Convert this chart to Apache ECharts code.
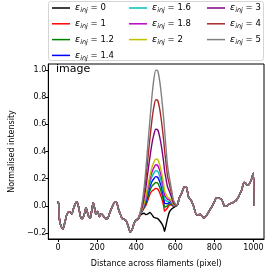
<!DOCTYPE html>
<html><head><meta charset="utf-8">
<script src="https://cdn.jsdelivr.net/npm/echarts@6/dist/echarts.min.js"></script>
<style>html,body{margin:0;padding:0;background:#fff}#c{width:274px;height:274px}</style>
</head><body><div id="c"></div>
<script>
// ---- data ----
const epsLabels = ['0','1','1.2','1.4','1.6','1.8','2','3','4','5'];
const colors = ['#000000','#ff0000','#008000','#0000ff','#00bfbf','#bf00bf','#bfbf00','#800080','#a52a2a','#808080'];

// common profile left of the filament (identical for all curves)
const leftX = [0,4,7,15,25,35,45,55,62,70,80,90,97,105,115,122,132,143,150,157,165,172,180,187,193,203,211,220,230,243,255,265,278,290,299,308,318,330,340,350,360,370,380,390,400];
const leftY = [0.035,0.0,-0.10,-0.15,-0.17,-0.12,-0.065,-0.045,-0.045,-0.06,-0.015,0.02,0.028,-0.01,-0.08,-0.095,-0.075,-0.015,-0.05,-0.08,-0.09,-0.035,0.022,-0.02,-0.06,-0.042,-0.08,-0.058,-0.072,-0.095,-0.09,-0.05,-0.005,0.025,0.025,-0.02,-0.06,-0.098,-0.10,-0.115,-0.155,-0.195,-0.17,-0.125,-0.105];

// filament region, one array per injected epsilon
const peakX = [410,420,430,440,450,460,470,480,490,500,510,520,530,540,545,550,560,570,580,590,600,610];
const eps0  = [-0.100,-0.070,-0.060,-0.055,-0.065,-0.060,-0.050,-0.065,-0.085,-0.090,-0.095,-0.110,-0.130,-0.160,-0.190,-0.160,-0.095,-0.045,-0.025,-0.015,-0.005,0.005];
const eps1  = [-0.098,-0.066,-0.044,-0.018,0.004,0.044,0.086,0.108,0.118,0.128,0.123,0.096,0.056,0.002,-0.040,-0.034,-0.016,0.005,0.005,-0.003,-0.001,0.005];
const eps12 = [-0.098,-0.065,-0.041,-0.011,0.018,0.065,0.113,0.143,0.159,0.172,0.167,0.137,0.093,0.034,-0.010,-0.009,0.000,0.015,0.011,-0.001,0.000,0.005];
const eps14 = [-0.097,-0.064,-0.038,-0.003,0.032,0.086,0.140,0.177,0.199,0.215,0.210,0.178,0.130,0.067,0.020,0.016,0.016,0.025,0.017,0.002,0.001,0.005];
const eps16 = [-0.097,-0.064,-0.034,0.004,0.045,0.106,0.168,0.212,0.240,0.259,0.254,0.220,0.168,0.099,0.050,0.042,0.031,0.035,0.023,0.004,0.001,0.005];
const eps18 = [-0.096,-0.063,-0.031,0.012,0.059,0.127,0.195,0.246,0.280,0.302,0.297,0.261,0.205,0.132,0.080,0.067,0.047,0.045,0.029,0.007,0.002,0.005];
const eps2  = [-0.096,-0.062,-0.028,0.019,0.073,0.148,0.222,0.281,0.321,0.346,0.341,0.302,0.242,0.164,0.110,0.092,0.063,0.055,0.035,0.009,0.003,0.005];
const eps3  = [-0.094,-0.058,-0.012,0.056,0.142,0.252,0.358,0.454,0.524,0.564,0.559,0.508,0.428,0.326,0.260,0.218,0.142,0.105,0.065,0.021,0.007,0.005];
const eps4  = [-0.092,-0.054,0.004,0.093,0.211,0.356,0.494,0.627,0.727,0.782,0.777,0.714,0.614,0.488,0.410,0.344,0.221,0.155,0.095,0.033,0.011,0.005];
const eps5  = [-0.090,-0.050,0.020,0.130,0.280,0.460,0.630,0.800,0.930,1.000,0.995,0.920,0.800,0.650,0.560,0.470,0.300,0.205,0.125,0.045,0.015,0.005];

// common profile right of the filament
const rightX = [620,628,637,645,655,662,670,680,694,709,729,746,760,772,788,800,810,822,834,843,851,861,872,885,897,910,918,930,940,952,960,968,979,991,999,1004];
const rightY = [0.055,0.08,0.11,0.138,0.14,0.105,0.055,0.044,-0.005,-0.066,-0.064,-0.09,-0.07,-0.042,-0.005,0.03,0.057,0.055,0.052,0.03,-0.003,-0.004,0.008,0.018,0.025,0.038,0.05,0.085,0.118,0.172,0.165,0.152,0.16,0.2,0.24,0.0];

const xTicks = [0,200,400,600,800,1000];
const yTicks = [-0.2,0.0,0.2,0.4,0.6,0.8,1.0];

// ---- chart ----
const peakSets = [eps0,eps1,eps12,eps14,eps16,eps18,eps2,eps3,eps4,eps5];
const names = epsLabels.map(v => 'ε_inj = ' + v);
function pairs(xs, ys){ return xs.map((x,i)=>[x,ys[i]]); }
const series = peakSets.map((p,k)=>({
  type:'line', name:names[k], color:colors[k], symbol:'none', smooth:0.25,
  lineStyle:{width:1.4, color:colors[k]}, animation:false,
  data: pairs(leftX,leftY).concat(pairs(peakX,p)).concat(pairs(rightX,rightY))
}));

const font = 'DejaVu Sans';
const richText = {
  e:{fontFamily:font,fontSize:9.5,fontStyle:'italic',lineHeight:12,color:'#000'},
  s:{fontFamily:font,fontSize:6.5,fontStyle:'italic',lineHeight:7,verticalAlign:'bottom',color:'#000'},
  t:{fontFamily:font,fontSize:8.5,lineHeight:12,color:'#000'}
};
function fmt(name){ return '{e|ε}{s|inj}{t| = ' + name.split('= ')[1] + '}'; }
function legendCol(left, idx){
  return {orient:'vertical', left:left, top:3, itemWidth:18, itemHeight:1.5, itemGap:4.8,
    icon:'rect', selectedMode:false, padding:0, data: idx.map(i=>names[i]), formatter:fmt,
    textStyle:{fontFamily:font,fontSize:8.5,rich:richText}};
}

const chart = echarts.init(document.getElementById('c'), null, {renderer:'canvas'});
chart.setOption({
  animation:false,
  backgroundColor:'#fff',
  title:{text:'image', left:56, top:64, padding:0, textStyle:{fontFamily:font,fontSize:11,fontWeight:'normal',color:'#000'}},
  graphic:[{type:'rect', left:48, top:1, z:-1, shape:{width:215, height:59, r:2}, style:{fill:'#fff', stroke:'#d5d5d5', lineWidth:1}}],
  legend:[legendCol(52,[0,1,2,3]), legendCol(129,[4,5,6]), legendCol(207,[7,8,9])],
  grid:{left:46, right:10, top:64, bottom:35, show:true, borderColor:'#000', borderWidth:1},
  xAxis:{type:'value', min:-50, max:1054,
    name:'Distance across filaments (pixel)', nameLocation:'middle', nameGap:21,
    nameTextStyle:{fontFamily:font,fontSize:8,color:'#000'},
    axisLine:{show:true,onZero:false,lineStyle:{color:'#000',width:1}},
    axisTick:{show:true,length:3,customValues:xTicks,lineStyle:{color:'#000'}},
    axisLabel:{customValues:xTicks,margin:5,fontFamily:font,fontSize:8,color:'#000',formatter:v=>String(v)},
    splitLine:{show:false}},
  yAxis:{type:'value', min:-0.245, max:1.045,
    name:'Normalised intensity', nameLocation:'middle', nameGap:29,
    nameTextStyle:{fontFamily:font,fontSize:8,color:'#000'},
    axisLine:{show:true,onZero:false,lineStyle:{color:'#000',width:1}},
    axisTick:{show:true,length:3,customValues:yTicks,lineStyle:{color:'#000'}},
    axisLabel:{customValues:yTicks,margin:2,fontFamily:font,fontSize:8,color:'#000',
      formatter:v=>(v<0?'\u2212':'')+Math.abs(v).toFixed(1)},
    splitLine:{show:false}},
  series:series
});
</script></body></html>
